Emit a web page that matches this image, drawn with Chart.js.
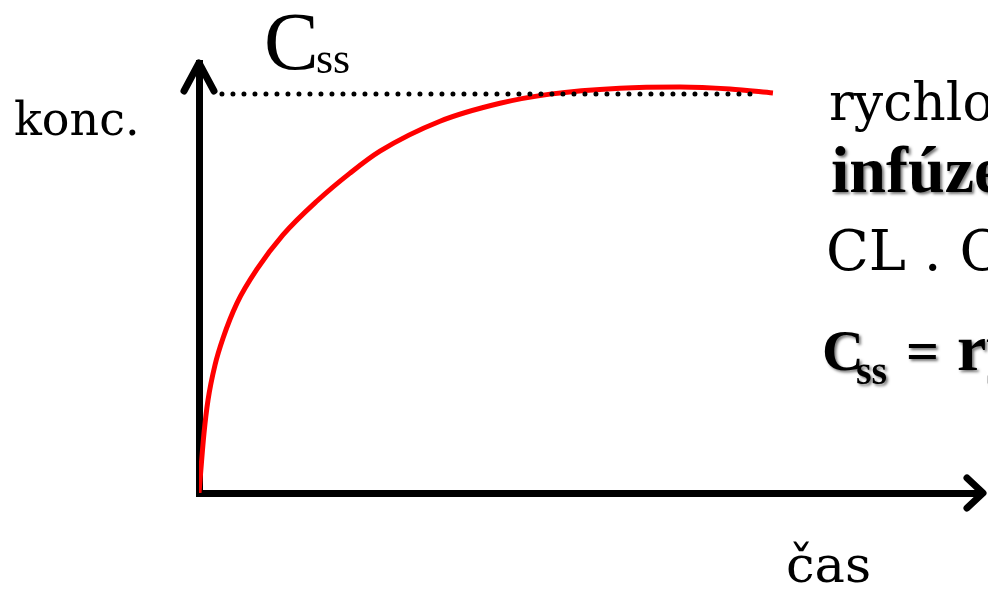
<!DOCTYPE html>
<html lang="cs">
<head>
<meta charset="UTF-8">
<title>Konstantní infúze – Css</title>
<script src="https://cdn.jsdelivr.net/npm/chart.js"></script>
<style>
  html, body { margin: 0; padding: 0; background: #fff; }
  canvas { display: block; }
</style>
</head>
<body>
<canvas id="chart" width="988" height="590"></canvas>
<script>
// čas (relativní jednotky) a koncentrace (podíl Css)
const casBody = [0, 0.087, 0.157, 0.279, 0.418, 0.662, 1.01, 1.463, 2.056, 2.631, 3.153, 4.199, 5.244, 6.115, 7.334, 8.38, 9.251, 10.0];
const koncentrace = [0, 0.15, 0.233, 0.321, 0.388, 0.476, 0.561, 0.647, 0.732, 0.802, 0.857, 0.932, 0.977, 1.0, 1.015, 1.018, 1.013, 1.003];
// tečkovaná úroveň Css
const cssOd = 0.4;
const cssDo = 9.63;
const cssHodnota = 1.0;
// rozsah os
const casMax = 13.66;
const koncMax = 1.078;

const krivka = casBody.map((t, i) => ({ x: t, y: koncentrace[i] }));
const cssLinie = [{ x: cssOd, y: cssHodnota }, { x: cssDo, y: cssHodnota }];

const zeroSize = {
  afterFit: (scale) => {
    if (scale.isHorizontal()) scale.height = 0; else scale.width = 0;
  }
};

const sipkyText = {
  id: 'sipkyText',
  afterDraw: (chart) => {
    const { ctx, scales: { x, y } } = chart;
    const x0 = x.getPixelForValue(0);
    const y0 = y.getPixelForValue(0);
    const yTop = y.getPixelForValue(koncMax);
    const xEnd = x.getPixelForValue(casMax);

    ctx.save();
    ctx.strokeStyle = '#000';
    ctx.lineWidth = 7;
    ctx.lineCap = 'round';
    ctx.lineJoin = 'round';
    // šipka osy y
    ctx.beginPath();
    ctx.moveTo(x0 - 15, yTop + 28);
    ctx.lineTo(x0, yTop);
    ctx.lineTo(x0 + 15, yTop + 28);
    ctx.stroke();
    // šipka osy x
    ctx.beginPath();
    ctx.moveTo(xEnd - 16, y0 - 15);
    ctx.lineTo(xEnd, y0);
    ctx.lineTo(xEnd - 16, y0 + 15);
    ctx.stroke();

    ctx.fillStyle = '#000';
    ctx.textBaseline = 'alphabetic';
    ctx.textAlign = 'left';

    // popisky os
    ctx.font = '46px "DejaVu Serif"';
    ctx.fillText('konc.', 14, 135);
    ctx.font = '51px "DejaVu Serif"';
    ctx.fillText('čas', 786, 582);

    // Css nad osou
    ctx.font = '82px "Liberation Serif"';
    ctx.fillText('C', 264, 69);
    ctx.font = '44px "Liberation Serif"';
    ctx.fillText('ss', 316, 73);

    // text vpravo
    ctx.font = '52px "DejaVu Serif"';
    ctx.fillText('rychlost', 829, 120);
    ctx.font = '56px "DejaVu Serif"';
    ctx.fillText('CL . C', 826, 270);

    ctx.shadowColor = 'rgba(0,0,0,0.55)';
    ctx.shadowOffsetX = 2;
    ctx.shadowOffsetY = 2;
    ctx.shadowBlur = 3;
    ctx.font = 'bold 66px "Liberation Serif"';
    ctx.fillText('infúze', 831, 192);
    ctx.font = 'bold 58px "Liberation Serif"';
    ctx.fillText('C', 822, 370);
    ctx.font = 'bold 40px "Liberation Serif"';
    ctx.fillText('ss', 856, 384);
    ctx.font = 'bold 58px "Liberation Serif"';
    ctx.fillText('=', 906, 370);
    ctx.font = 'bold 66px "Liberation Serif"';
    ctx.fillText('rychlost', 957, 370);
    ctx.restore();
  }
};

new Chart(document.getElementById('chart'), {
  type: 'line',
  data: {
    datasets: [
      {
        data: cssLinie,
        borderColor: '#000',
        borderWidth: 5,
        borderDash: [0, 11],
        borderCapStyle: 'round',
        pointRadius: 0,
        fill: false
      },
      {
        data: krivka,
        borderColor: '#ff0000',
        borderWidth: 5,
        cubicInterpolationMode: 'monotone',
        pointRadius: 0,
        fill: false
      }
    ]
  },
  options: {
    responsive: false,
    animation: false,
    devicePixelRatio: 1,
    layout: { padding: { left: 199, right: 5, top: 63, bottom: 97 } },
    plugins: { legend: { display: false }, tooltip: { enabled: false } },
    scales: {
      x: {
        type: 'linear', min: 0, max: casMax,
        grid: { display: false },
        ticks: { display: false },
        border: { display: true, color: '#000', width: 7 },
        ...zeroSize
      },
      y: {
        type: 'linear', min: 0, max: koncMax,
        grid: { display: false },
        ticks: { display: false },
        border: { display: true, color: '#000', width: 7 },
        ...zeroSize
      }
    }
  },
  plugins: [sipkyText]
});
</script>
</body>
</html>
